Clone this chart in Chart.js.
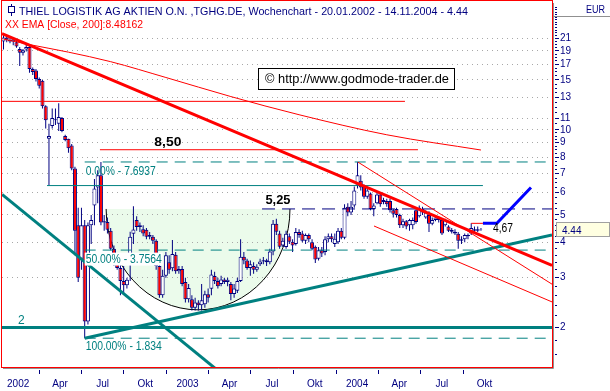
<!DOCTYPE html>
<html><head><meta charset="utf-8">
<script src="https://cdn.jsdelivr.net/npm/chart.js@4/dist/chart.umd.min.js"></script>
<style>html,body{margin:0;padding:0;background:#fff;}#wrap{position:relative;width:610px;height:391px;}</style>
</head><body><div id="wrap"><canvas id="c" width="610" height="391"></canvas></div>
<script>
// ---------- DATA (weekly candles, 20.01.2002 - 14.11.2004) ----------
const dataStart = '2002-01-20';
const opens  = [20.5,21.2,20.8,20.5,20.4,19.3,18.7,19.2,19.6,16.4,16.2,15.1,14.9,12.1,9.3,10.3,10.8,10.5,11.0,9.5,9.3,8.8,7.3,4.6,3.5,4.6,2.1,4.6,5.4,6.25,6.9,4.7,4.72,4.4,3.8,3.45,3.25,2.92,2.82,3.62,4.29,4.8,4.53,4.45,4.43,4.19,4.19,4.05,3.3,2.6,3.05,3.4,3.24,3.62,3.16,3.22,2.9,2.52,2.52,2.35,2.45,2.40,2.42,2.62,2.74,3.04,2.92,2.85,2.96,2.9,2.85,2.63,2.7,2.92,3.56,3.45,3.25,3.3,3.2,3.35,3.42,3.46,3.4,3.71,4.65,4.3,3.9,3.85,4.2,4.02,3.95,4.35,4.3,4.05,4.25,4.0,3.86,3.5,3.75,3.7,4.1,4.2,3.95,4.0,4.4,4.15,5.35,5.1,5.4,6.35,6.6,6.3,5.8,5.95,5.25,5.5,5.9,5.55,5.6,5.6,5.2,5.25,5.0,4.6,4.75,4.6,4.6,5.2,4.95,5.25,4.9,5.0,4.65,4.8,4.9,4.8,4.6,4.55,4.42,4.36,4.29,4.05,4.1,4.25,4.3,4.45,4.4,4.45];
const highs  = [21.6,21.5,21.3,21.2,20.7,19.6,19.3,20.1,20.0,16.6,16.4,15.3,15.0,12.2,10.5,11.9,11.9,12.4,11.1,9.6,9.3,8.9,7.4,5.3,5.3,4.8,4.7,5.0,6.7,7.2,7.69,5.0,4.9,4.5,3.9,3.6,3.5,3.3,3.0,4.36,5.37,4.95,4.7,4.6,4.5,4.35,4.25,4.1,3.35,3.2,3.7,3.6,4.08,3.7,3.3,3.3,3.0,2.85,2.6,2.55,2.5,2.85,2.7,2.75,3.2,3.15,3.0,3.05,3.0,3.0,2.9,2.85,3.0,4.1,3.7,3.5,3.45,3.4,3.35,3.5,3.55,3.5,3.8,4.8,4.85,4.4,4.15,4.4,4.3,4.1,4.5,4.45,4.4,4.3,4.3,4.1,3.9,3.85,3.85,4.2,4.3,4.3,4.3,4.5,4.5,5.45,5.5,5.6,6.3,7.69,6.9,6.4,6.25,6.0,5.5,6.0,6.0,5.75,5.7,5.7,5.25,5.3,5.05,4.85,4.8,4.85,4.9,5.3,5.4,5.35,5.2,5.15,4.9,5.0,4.95,4.85,4.85,4.6,4.5,4.45,4.35,4.2,4.3,4.3,4.67,4.55,4.55,4.5];
const lows   = [19.2,20.4,20.2,19.9,19.5,16.8,18.3,18.9,15.9,15.6,14.8,14.0,11.9,10.1,6.35,10.1,10.4,9.9,9.8,9.1,8.3,7.2,3.6,2.9,3.2,1.834,2.05,3.95,4.6,5.5,4.6,4.4,4.3,3.75,3.3,3.2,2.6,2.65,2.75,2.92,3.95,4.4,4.35,4.2,4.1,4.1,3.95,3.2,2.55,2.55,3.0,3.1,3.16,3.1,3.1,2.8,2.45,2.45,2.3,2.3,2.3,2.3,2.35,2.45,2.6,2.85,2.75,2.8,2.85,2.8,2.5,2.55,2.65,2.9,3.35,3.2,3.05,3.1,3.15,3.3,3.35,3.3,3.35,3.6,4.25,3.8,3.85,3.8,3.95,3.7,3.9,4.15,4.0,3.95,4.0,3.75,3.38,3.45,3.55,3.6,4.0,4.0,3.85,3.95,4.1,4.1,4.95,5.0,5.3,6.2,6.1,5.7,5.7,5.2,4.95,5.45,5.35,5.45,5.35,5.1,4.9,4.9,4.5,4.5,4.45,4.4,4.45,4.65,4.9,5.0,4.85,4.35,4.6,4.75,4.7,4.25,4.55,4.35,4.3,4.25,3.8,3.95,4.0,4.1,4.25,4.35,4.35,4.4];
const closes = [21.2,20.8,20.5,20.9,19.7,18.7,19.1,19.6,16.4,16.0,15.1,14.3,12.1,10.8,9.5,11.0,10.9,11.1,9.9,9.2,8.6,7.3,4.4,3.0,4.6,2.1,4.6,4.8,6.2,6.9,4.7,4.75,4.43,3.8,3.45,3.25,2.92,2.82,2.95,4.19,4.44,4.53,4.6,4.3,4.19,4.25,4.05,3.3,2.6,3.05,3.6,3.2,3.64,3.16,3.22,2.85,2.52,2.76,2.35,2.45,2.40,2.50,2.62,2.55,3.08,2.92,2.8,2.96,2.9,2.95,2.63,2.75,2.92,3.56,3.45,3.25,3.35,3.2,3.28,3.42,3.46,3.4,3.71,4.65,4.36,3.86,4.05,4.29,4.02,3.9,4.35,4.25,4.05,4.25,4.1,3.8,3.48,3.75,3.65,4.1,4.2,4.1,4.12,4.4,4.15,5.3,5.1,5.35,6.1,6.9,6.25,5.8,6.1,5.25,5.4,5.9,5.45,5.65,5.45,5.2,5.05,5.0,4.6,4.75,4.55,4.8,4.8,4.72,5.3,5.1,5.1,4.65,4.8,4.9,4.8,4.3,4.8,4.4,4.36,4.3,4.05,4.1,4.25,4.2,4.5,4.4,4.45,4.44];

// EMA 200 (read at selected weeks)
const emaWeeks  = [0, 8, 20, 33, 50, 70, 91, 118, 147];
const emaValues = [20.9, 20.0, 18.8, 17.4, 15.3, 13.1, 11.3, 9.6, 8.48];

// drawn trend lines: [startWeek, endWeek] / [startPrice, endPrice]
const trendDownWeeks = [-0.46, 168.87], trendDownPrices = [21.87, 3.32];
const chanUpperWeeks = [109.1, 168.87], chanUpperPrices = [7.69, 2.847];
const chanLowerWeeks = [114.07, 168.87], chanLowerPrices = [4.57, 2.464];
const supDownWeeks   = [-0.46, 65.4],   supDownPrices   = [5.91, 1.428];
const supUpWeeks     = [25, 168.87],    supUpPrices     = [1.834, 4.25];
const projWeeks      = [147.6, 151.9, 162.4], projPrices = [4.67, 4.67, 6.25];

// horizontal levels
const redLevelHigh = 12.6,  redLevelHighWeeks = [-0.46, 123.6];
const redLevel850  = 8.50,  redLevel850Weeks  = [29.7, 127.6];
const tealLevel    = 6.35,  tealLevelWeeks    = [13.4, 147.6];
const navyLevel525 = 5.25,  navyLevelWeeks    = [79.6, 168.87];
const redLevel467  = 4.67,  redLevel467Weeks  = [144, 147.6];
const tealLevel2   = 2,     tealLevel2Weeks   = [-0.46, 168.87];
const fibPrices = [7.6937, 3.7564, 1.834];
const fibLabels = ['0.00% - 7.6937', '50.00% - 3.7564', '100.00% - 1.834'];
const fibWeeks  = [25, 168.87];

// rounded bottom
const roundWeeks = [31.6, 88.2], roundTop = 5.25, roundBottom = 2.31;

// axes
const quarterStarts = ['2002-01-01','2002-04-01','2002-07-01','2002-10-01','2003-01-01','2003-04-01','2003-07-01','2003-10-01','2004-01-01','2004-04-01','2004-07-01','2004-10-01','2005-01-01'];
const quarterLabels = ['2002','Apr','Jul','Okt','2003','Apr','Jul','Okt','2004','Apr','Jul','Okt'];
const majorTicks = [2,3,4,5,6,7,8,9,10,11,13,15,17,19,21];
const weekMin = -0.46, weekMax = 168.87, priceMin = 1.451, priceMax = 27.15;

// ---------- BUILD ----------
const NAVY='#000080', RED='#ff0000', TEAL='#008080', BLUE='#0000ff';
const weekOf = d => (Date.parse(d) - Date.parse(dataStart)) / (7*864e5) + 0.8;
const qWeeks = quarterStarts.map(weekOf);
const tickWeeks = qWeeks.filter(w => w >= 0 && w <= closes.length - 1);
const labelWeeks = quarterLabels.map((_, i) => (qWeeks[i] + qWeeks[i+1]) / 2);
const yTicks = [];
for (let v = 1.6; v < 5 - 1e-9; v += 0.2) yTicks.push(+v.toFixed(2));
for (let v = 5; v < 10 - 1e-9; v += 0.25) yTicks.push(+v.toFixed(2));
for (let v = 10; v <= 27 + 1e-9; v += 0.5) yTicks.push(+v.toFixed(2));

const pts = (ws, ps) => ws.map((w, i) => ({x: w, y: ps[i]}));
const hline = (p, ws) => [{x: ws[0], y: p}, {x: ws[1], y: p}];
const line = (data, color, width, extra) => Object.assign({type:'line', data, borderColor:color, borderWidth:width, pointRadius:0, fill:false, tension:0, order:2}, extra||{});

const wickData = highs.map((h, i) => ({x: i, y: [lows[i], h]}));
const bodyData = opens.map((o, i) => ({x: i, y: [Math.min(o, closes[i]), Math.max(o, closes[i])]}));
const bodyColors = opens.map((o, i) => closes[i] >= o ? '#ffffff' : RED);

const datasets = [
  line(hline(redLevel467, redLevel467Weeks), RED, 1),
  line(pts(projWeeks, projPrices), BLUE, 3),
  line(pts(trendDownWeeks, trendDownPrices), RED, 3),
  line(pts(chanUpperWeeks, chanUpperPrices), RED, 1),
  line(pts(chanLowerWeeks, chanLowerPrices), RED, 1),
  line(pts(emaWeeks, emaValues), RED, 1, {cubicInterpolationMode:'monotone'}),
  line(pts(supDownWeeks, supDownPrices), TEAL, 3),
  line(pts(supUpWeeks, supUpPrices), TEAL, 3),
  line(hline(tealLevel2, tealLevel2Weeks), TEAL, 3),
  line(hline(redLevelHigh, redLevelHighWeeks), RED, 1),
  line(hline(redLevel850, redLevel850Weeks), RED, 1),
  line(hline(tealLevel, tealLevelWeeks), TEAL, 1),
  line(hline(navyLevel525, navyLevelWeeks), NAVY, 1, {borderDash:[13,7]}),
  ...fibPrices.map(p => line(hline(p, fibWeeks), TEAL, 1, {borderDash:[11,7]})),
  {type:'bar', data: bodyData, backgroundColor: bodyColors, borderColor: NAVY, borderWidth: 1, borderSkipped: false, barThickness: 4, grouped: false, inflateAmount: 0, order: 5},
  {type:'bar', data: wickData, backgroundColor: NAVY, borderWidth: 0, barThickness: 1, grouped: false, inflateAmount: 0, order: 6}
];

function txt(ctx, s, x, y, o) {
  ctx.save();
  ctx.font = o.font;
  const w = ctx.measureText(s).width;
  const tw = o.width || w, k = tw / w;
  let left = x;
  if (o.align === 'center') left = x - tw / 2;
  if (o.align === 'right') left = x - tw;
  if (o.bg) { ctx.fillStyle = o.bg; ctx.fillRect(left - 1, y - 10, tw + 2, 13); }
  ctx.translate(left, y); ctx.scale(k, 1);
  ctx.fillStyle = o.color; ctx.textBaseline = 'alphabetic'; ctx.textAlign = 'left';
  ctx.fillText(s, 0, 0);
  ctx.restore();
}

const F = '"Liberation Sans", Arial, sans-serif';
const overlay = {
  id: 'overlay',
  beforeDraw(chart) {
    const {ctx} = chart, xs = chart.scales.x, ys = chart.scales.y;
    const l = xs.getPixelForValue(roundWeeks[0]), r = xs.getPixelForValue(roundWeeks[1]);
    const t = ys.getPixelForValue(roundTop), b = ys.getPixelForValue(roundBottom);
    ctx.save(); ctx.beginPath();
    ctx.ellipse((l + r) / 2, t, (r - l) / 2, b - t, 0, 0, Math.PI); ctx.closePath();
    ctx.fillStyle = '#ebfbeb'; ctx.fill(); ctx.restore();
  },
  beforeDatasetsDraw(chart) {
    const {ctx} = chart, xs = chart.scales.x, ys = chart.scales.y;
    const l = xs.getPixelForValue(roundWeeks[0]), r = xs.getPixelForValue(roundWeeks[1]);
    const t = ys.getPixelForValue(roundTop), b = ys.getPixelForValue(roundBottom);
    ctx.save(); ctx.beginPath();
    ctx.ellipse((l + r) / 2, t, (r - l) / 2, b - t, 0, 0, Math.PI);
    ctx.strokeStyle = '#000'; ctx.lineWidth = 1; ctx.stroke(); ctx.restore();
  },
  afterDraw(chart) {
    const {ctx} = chart, xs = chart.scales.x, ys = chart.scales.y;
    // frame + shadow
    ctx.save();
    ctx.strokeStyle = '#909090'; ctx.lineWidth = 1;
    ctx.beginPath(); ctx.moveTo(553.5, 3); ctx.lineTo(553.5, 368.5); ctx.lineTo(3, 368.5); ctx.stroke();
    ctx.beginPath(); ctx.moveTo(554, 16.5); ctx.lineTo(610, 16.5); ctx.stroke();
    ctx.strokeStyle = RED; ctx.strokeRect(1.5, 0.5, 551, 367);
    ctx.restore();
    // header
    ctx.save();
    ctx.strokeStyle = NAVY; ctx.lineWidth = 1;
    ctx.beginPath(); ctx.moveTo(11.5, 4); ctx.lineTo(11.5, 16); ctx.stroke();
    ctx.fillStyle = '#fff'; ctx.fillRect(8.5, 6.5, 6, 6); ctx.strokeRect(8.5, 6.5, 6, 6);
    ctx.restore();
    txt(ctx, 'THIEL LOGISTIK AG AKTIEN O.N. ,TGHG.DE, Wochenchart - 20.01.2002 - 14.11.2004 - 4.44', 19, 15, {font: '11px ' + F, color: NAVY, width: 449});
    txt(ctx, 'XX EMA [Close, 200]:8.48162', 5, 28, {font: '11px ' + F, color: RED, width: 138});
    txt(ctx, 'EUR', 605, 13, {font: '11px ' + F, color: NAVY, width: 19, align: 'right'});
    // copyright box
    ctx.save(); ctx.fillStyle = '#fff'; ctx.fillRect(258.5, 68.5, 196, 21);
    ctx.strokeStyle = '#000'; ctx.strokeRect(258.5, 68.5, 196, 21); ctx.restore();
    txt(ctx, '\u00a9 http://www.godmode-trader.de', 265, 83, {font: '12px ' + F, color: '#000', width: 184});
    // level labels
    txt(ctx, '8,50', xs.getPixelForValue(50.6), ys.getPixelForValue(redLevel850) - 4, {font: 'bold 13px ' + F, color: '#000', width: 27, align: 'center'});
    txt(ctx, '5,25', xs.getPixelForValue(84.5), ys.getPixelForValue(navyLevel525) - 5, {font: 'bold 13px ' + F, color: '#000', width: 25, align: 'center'});
    txt(ctx, '4,67', xs.getPixelForValue(150.7), ys.getPixelForValue(redLevel467) + 9, {font: '12px ' + F, color: '#000', width: 20});
    const fx = xs.getPixelForValue(fibWeeks[0]) + 1;
    txt(ctx, fibLabels[0], fx, ys.getPixelForValue(fibPrices[0]) + 13, {font: '12px ' + F, color: TEAL, width: 70});
    txt(ctx, fibLabels[1], fx, ys.getPixelForValue(fibPrices[1]) + 12.5, {font: '12px ' + F, color: TEAL, width: 76, bg: '#fff'});
    txt(ctx, fibLabels[2], fx, ys.getPixelForValue(fibPrices[2]) + 12, {font: '12px ' + F, color: TEAL, width: 76});
    txt(ctx, '2', 18, ys.getPixelForValue(tealLevel2) - 4, {font: '12px ' + F, color: TEAL});
    // last price box
    const last = closes[closes.length - 1], py = Math.round(ys.getPixelForValue(last));
    ctx.save(); ctx.fillStyle = '#ffffe1'; ctx.fillRect(556.5, py - 7.5, 53, 14);
    ctx.strokeStyle = '#a0a0a0'; ctx.strokeRect(556.5, py - 7.5, 53, 14); ctx.restore();
    txt(ctx, last.toFixed(2), 562, py + 4, {font: '10px ' + F, color: NAVY});
  }
};

Chart.defaults.font.family = F;
new Chart(document.getElementById('c'), {
  type: 'bar',
  data: {datasets},
  options: {
    responsive: false, animation: false, events: [],
    layout: {padding: {left: 2, top: 2, right: 0, bottom: 0}},
    plugins: {legend: {display: false}, tooltip: {enabled: false}},
    scales: {
      x: {type: 'linear', position: 'bottom', min: weekMin, max: weekMax, offset: false,
        afterBuildTicks: s => { s.ticks = tickWeeks.map(v => ({value: v})); },
        afterFit: s => { s.height = 8; },
        grid: {display: true, offset: false, drawOnChartArea: false, drawTicks: true, tickLength: 8, tickColor: NAVY, tickWidth: 1, tickBorderDash: [0, 3, 4, 100]},
        border: {display: false}, ticks: {display: false}},
      x2: {type: 'linear', position: 'bottom', min: weekMin, max: weekMax, offset: false,
        afterBuildTicks: s => { s.ticks = labelWeeks.map(v => ({value: v})); },
        afterFit: s => { s.height = 16; },
        grid: {display: false, drawTicks: false, offset: false}, border: {display: false},
        ticks: {autoSkip: false, maxRotation: 0, color: NAVY, font: {size: 10}, padding: 3, callback: (v, i) => quarterLabels[i]}},
      y: {type: 'logarithmic', position: 'right', min: priceMin, max: priceMax,
        afterBuildTicks: s => { s.ticks = yTicks.map(v => ({value: v})); },
        afterFit: s => { s.width = 58; },
        grid: {color: c => majorTicks.includes(c.tick && c.tick.value) ? '#a8a8a8' : 'rgba(0,0,0,0)',
          drawTicks: true, tickLength: 7, tickColor: NAVY, tickWidth: 1,
          tickBorderDash: c => majorTicks.includes(c.tick && c.tick.value) ? [0, 3, 4, 100] : [0, 3, 2, 100]},
        border: {display: false, dash: [1, 4]},
        ticks: {autoSkip: false, color: NAVY, font: {size: 10}, padding: 1, callback: v => majorTicks.includes(v) ? String(v) : ''}}
    }
  },
  plugins: [overlay]
});
</script></body></html>
